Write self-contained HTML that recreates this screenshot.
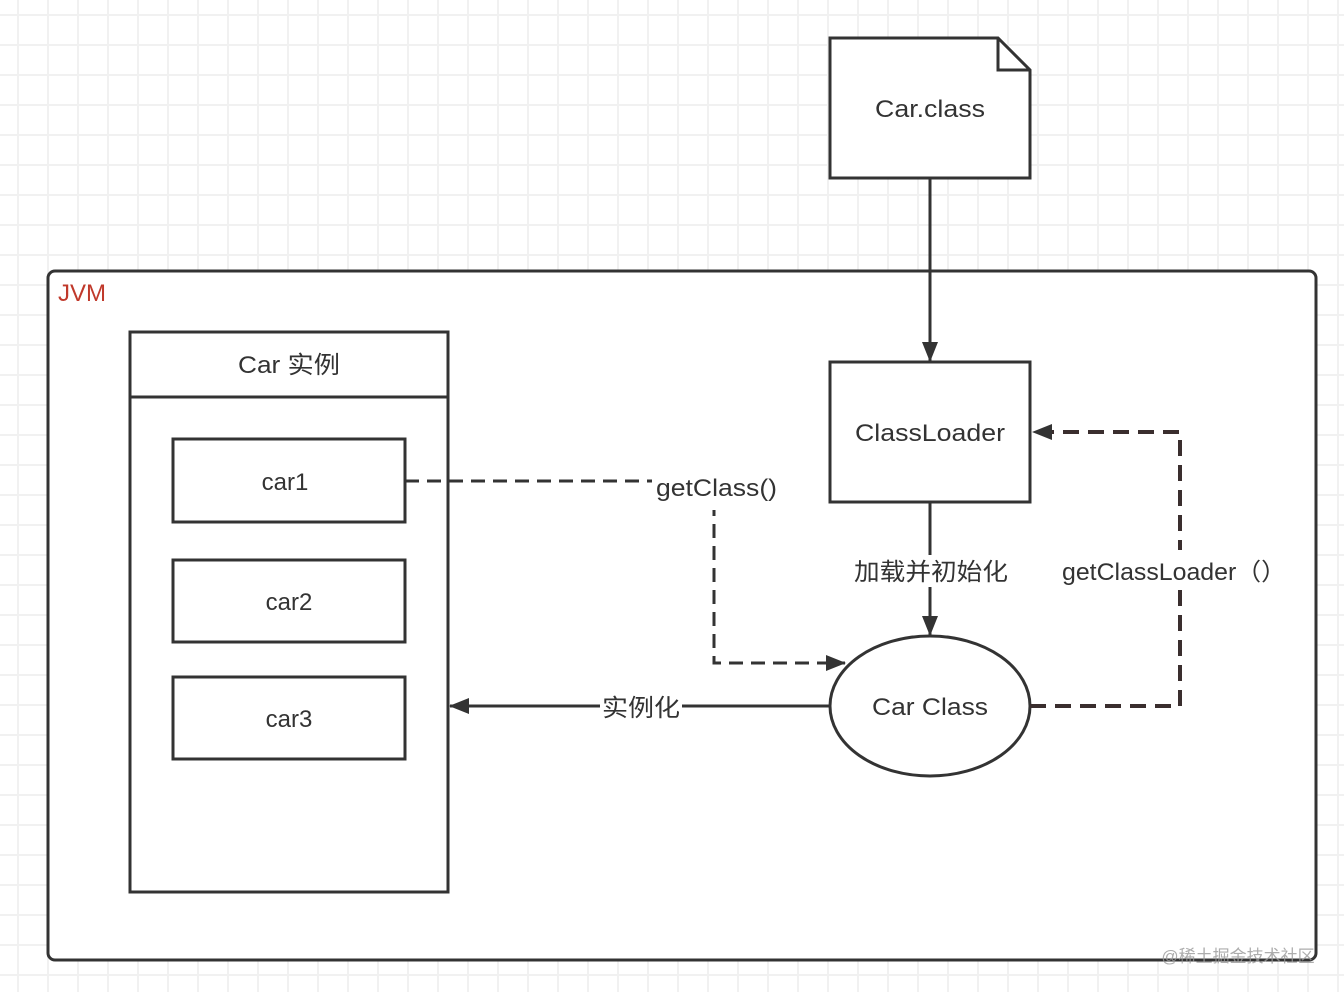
<!DOCTYPE html>
<html><head><meta charset="utf-8"><style>
html,body{margin:0;padding:0;background:#fff;}
svg{display:block;}
text{font-family:"Liberation Sans","Noto Sans CJK SC",sans-serif;fill:#333;}
</style></head><body>
<svg width="1344" height="992" viewBox="0 0 1344 992" xmlns="http://www.w3.org/2000/svg">
<defs>
<pattern id="g" x="3" y="0" width="30" height="30" patternUnits="userSpaceOnUse">
<path d="M15 0V30M0 15H30" stroke="#f1f1f1" stroke-width="2" fill="none"/>
</pattern>
<marker id="ah" markerWidth="20" markerHeight="16" refX="19" refY="8" orient="auto" markerUnits="userSpaceOnUse" viewBox="0 0 20 16">
<path d="M0,0 L20,8 L0,16 Z" fill="#333"/>
</marker>
</defs>
<rect width="1344" height="992" fill="url(#g)"/>
<rect x="48" y="271" width="1268" height="689" rx="7" fill="#fff" stroke="#333" stroke-width="3"/>
<text x="58" y="301" font-size="24" style="fill:#c0392b">JVM</text>
<path d="M830 38 H998 L1030 70 V178 H830 Z" fill="#fff" stroke="#333" stroke-width="3"/>
<path d="M998 38 V70 H1030" fill="none" stroke="#333" stroke-width="3"/>
<text x="875" y="117" font-size="24" textLength="110" lengthAdjust="spacingAndGlyphs">Car.class</text>
<rect x="830" y="362" width="200" height="140" fill="#fff" stroke="#333" stroke-width="3"/>
<text x="855" y="441" font-size="24" textLength="150" lengthAdjust="spacingAndGlyphs">ClassLoader</text>
<ellipse cx="930" cy="706" rx="100" ry="70" fill="#fff" stroke="#333" stroke-width="3"/>
<text x="872" y="715" font-size="24" textLength="116" lengthAdjust="spacingAndGlyphs">Car Class</text>
<rect x="130" y="332" width="318" height="560" fill="#fff" stroke="#333" stroke-width="3"/>
<line x1="130" y1="397" x2="448" y2="397" stroke="#333" stroke-width="3"/>
<text x="238" y="373" font-size="24" textLength="102" lengthAdjust="spacingAndGlyphs">Car 实例</text>
<rect x="173" y="439" width="232" height="83" fill="#fff" stroke="#333" stroke-width="3"/>
<text x="285" y="490" font-size="24" text-anchor="middle">car1</text>
<rect x="173" y="560" width="232" height="82" fill="#fff" stroke="#333" stroke-width="3"/>
<text x="289" y="610" font-size="24" text-anchor="middle">car2</text>
<rect x="173" y="677" width="232" height="82" fill="#fff" stroke="#333" stroke-width="3"/>
<text x="289" y="727" font-size="24" text-anchor="middle">car3</text>
<line x1="930" y1="178" x2="930" y2="361" stroke="#333" stroke-width="3" marker-end="url(#ah)"/>
<line x1="930" y1="502" x2="930" y2="635" stroke="#333" stroke-width="3" marker-end="url(#ah)"/>
<rect x="852" y="555" width="158" height="32" fill="#fff"/>
<text x="854" y="580" font-size="24" textLength="154" lengthAdjust="spacingAndGlyphs">加载并初始化</text>
<line x1="830" y1="706" x2="450" y2="706" stroke="#333" stroke-width="3" marker-end="url(#ah)"/>
<rect x="600" y="690" width="82" height="32" fill="#fff"/>
<text x="602" y="716" font-size="24" textLength="78" lengthAdjust="spacingAndGlyphs">实例化</text>
<path d="M405 481 H714 V663 H845" fill="none" stroke="#333" stroke-width="3" stroke-dasharray="14,8" marker-end="url(#ah)"/>
<rect x="652" y="470" width="128" height="40" fill="#fff"/>
<text x="656" y="496" font-size="24" textLength="121" lengthAdjust="spacingAndGlyphs">getClass()</text>
<path d="M1030 706 H1180 V432 H1033" fill="none" stroke="#3a2e2e" stroke-width="4" stroke-dasharray="16,9" marker-end="url(#ah)"/>
<rect x="1058" y="550" width="232" height="40" fill="#fff"/>
<text x="1062" y="580" font-size="24" textLength="224" lengthAdjust="spacingAndGlyphs">getClassLoader（）</text>
<text x="1238" y="962" font-size="17" text-anchor="middle" style="fill:#999;opacity:0.8">@稀土掘金技术社区</text>
</svg>
</body></html>
